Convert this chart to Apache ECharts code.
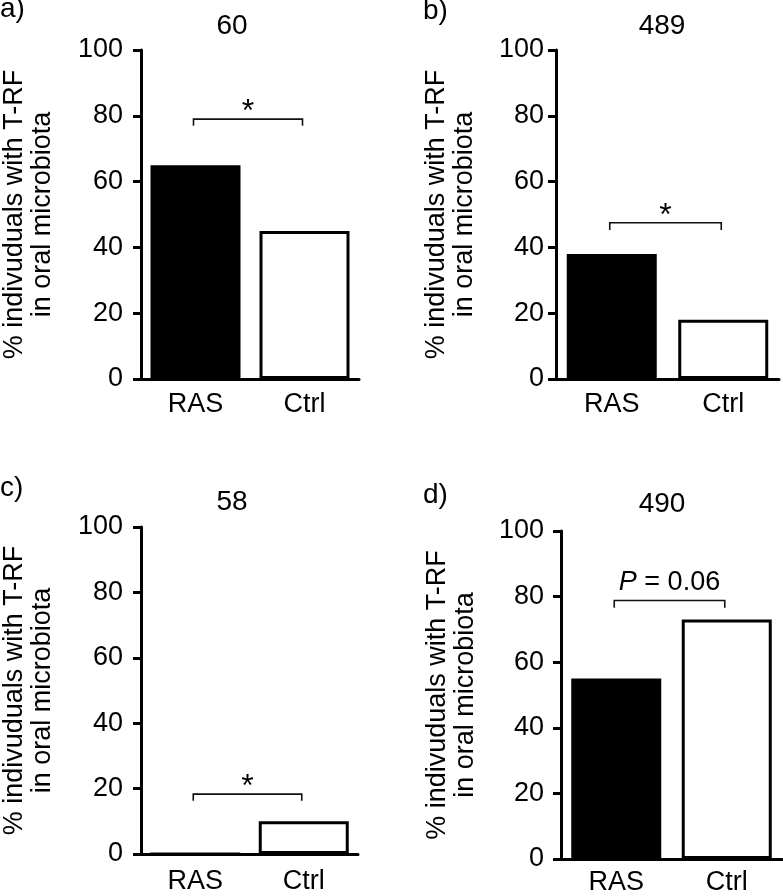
<!DOCTYPE html>
<html>
<head>
<meta charset="utf-8">
<script src="https://cdn.jsdelivr.net/npm/echarts@6/dist/echarts.min.js"></script>
<style>
html,body{margin:0;padding:0;background:#fff;}
#chart{width:783px;height:896px;}
</style>
</head>
<body>
<div id="chart"></div>
<script>
// ---- data ----
var categories = ['RAS', 'Ctrl'];
var panelLabels = ['a)', 'b)', 'c)', 'd)'];
var panelTitles = ['60', '489', '58', '490'];
var rasValues = [65, 38, 0, 55];
var ctrlValues = [45, 18, 10, 73];
var bracketHigh = [79, 47.5, 18.3, 78.8];
var bracketLow = [77, 45.3, 16.3, 76.6];
var bracketText = ['*', '*', '*', 'P = 0.06'];
var yTicks = [0, 20, 40, 60, 80, 100];
var yAxisName = '% indivuduals with T-RF\nin oral microbiota';

// ---- layout ----
var FONT = "'Liberation Sans', Arial, Helvetica, sans-serif";
var FS = 27;
var grids = [
  {left: 138, right: 424, top: 50, bottom: 517},
  {left: 556, right: 4, top: 50, bottom: 517},
  {left: 138, right: 425, top: 527, bottom: 42},
  {left: 561, right: 1, top: 531, bottom: 34}
];
var yLabelMargin = [18, 12, 18, 17];
var xLabelMargin = [12, 12, 14, 10];
var nameGaps = [84, 77, 84, 81];
var titlePos = [[232, 26], [662, 26], [232, 502], [662, 504]];
var panelLabelPos = [[0, 9], [423, 11], [0, 488], [423, 495]];

var chart = echarts.init(document.getElementById('chart'), null, {renderer: 'canvas'});

var xAxes = [], yAxes = [], series = [];
for (var i = 0; i < 4; i++) {
  xAxes.push({
    type: 'category', gridIndex: i, data: categories,
    axisLine: {show: true, lineStyle: {color: '#000', width: 3}},
    axisTick: {show: false},
    axisLabel: {color: '#000', fontFamily: FONT, fontSize: FS, margin: xLabelMargin[i]},
    splitLine: {show: false}
  });
  yAxes.push({
    type: 'value', gridIndex: i, min: 0, max: 100, interval: 20,
    name: yAxisName, nameLocation: 'middle', nameRotate: 90, nameGap: nameGaps[i],
    nameTextStyle: {color: '#000', fontFamily: FONT, fontSize: FS, lineHeight: 28, align: 'center'},
    axisLine: {show: true, lineStyle: {color: '#000', width: 3}},
    axisTick: {show: true, inside: false, length: 8, lineStyle: {color: '#000', width: 3}},
    axisLabel: {color: '#000', fontFamily: FONT, fontSize: FS, margin: yLabelMargin[i]},
    splitLine: {show: false}
  });
  series.push({
    type: 'bar', xAxisIndex: i, yAxisIndex: i, barWidth: 90,
    data: [
      {value: rasValues[i], itemStyle: {color: '#000', borderColor: '#000', borderWidth: 3}},
      {value: ctrlValues[i], itemStyle: {color: '#fff', borderColor: '#000', borderWidth: 3}}
    ],
    silent: true, animation: false
  });
  (function (idx) {
    series.push({
      type: 'custom', xAxisIndex: idx, yAxisIndex: idx, silent: true, animation: false,
      data: [[0, bracketHigh[idx], bracketLow[idx]]],
      encode: {x: 0, y: 1},
      renderItem: function (params, api) {
        var hi = api.value(1), lo = api.value(2);
        var a0 = api.coord([0, lo]), a1 = api.coord([0, hi]);
        var b1 = api.coord([1, hi]), b0 = api.coord([1, lo]);
        var dx = -2;
        var pts = [[a0[0] + dx, a0[1]], [a1[0] + dx, a1[1]], [b1[0] + dx, b1[1]], [b0[0] + dx, b0[1]]];
        var cx = (a1[0] + b1[0]) / 2 + dx;
        var isStar = bracketText[idx] === '*';
        var txt = isStar ? {
          type: 'text',
          style: {text: '*', x: cx, y: a1[1] - 7, textAlign: 'center', textVerticalAlign: 'middle',
            font: '32px ' + FONT, fill: '#000'}
        } : {
          type: 'text',
          style: {
            text: '{i|P} = 0.06', x: cx, y: a1[1] - 18, textAlign: 'center', textVerticalAlign: 'middle',
            font: FS + 'px ' + FONT, fill: '#000',
            rich: {i: {fontStyle: 'italic', fontFamily: FONT, fontSize: FS, fill: '#000'}}
          }
        };
        return {
          type: 'group',
          children: [
            {type: 'polyline', shape: {points: pts}, style: {stroke: '#111', lineWidth: 1.6, fill: null}},
            txt
          ]
        };
      }
    });
  })(i);
}

// panel titles and labels
var gEls = [];
for (var j = 0; j < 4; j++) {
  gEls.push({type: 'text', x: titlePos[j][0], y: titlePos[j][1],
    style: {text: panelTitles[j], font: '28px ' + FONT, fill: '#000', textAlign: 'center', textVerticalAlign: 'middle'}});
  gEls.push({type: 'text', x: panelLabelPos[j][0], y: panelLabelPos[j][1],
    style: {text: panelLabels[j], font: '28px ' + FONT, fill: '#000', textAlign: 'left', textVerticalAlign: 'middle'}});
}

chart.setOption({
  animation: false,
  backgroundColor: '#fff',
  grid: grids,
  xAxis: xAxes,
  yAxis: yAxes,
  series: series,
  graphic: gEls
});
</script>
</body>
</html>
